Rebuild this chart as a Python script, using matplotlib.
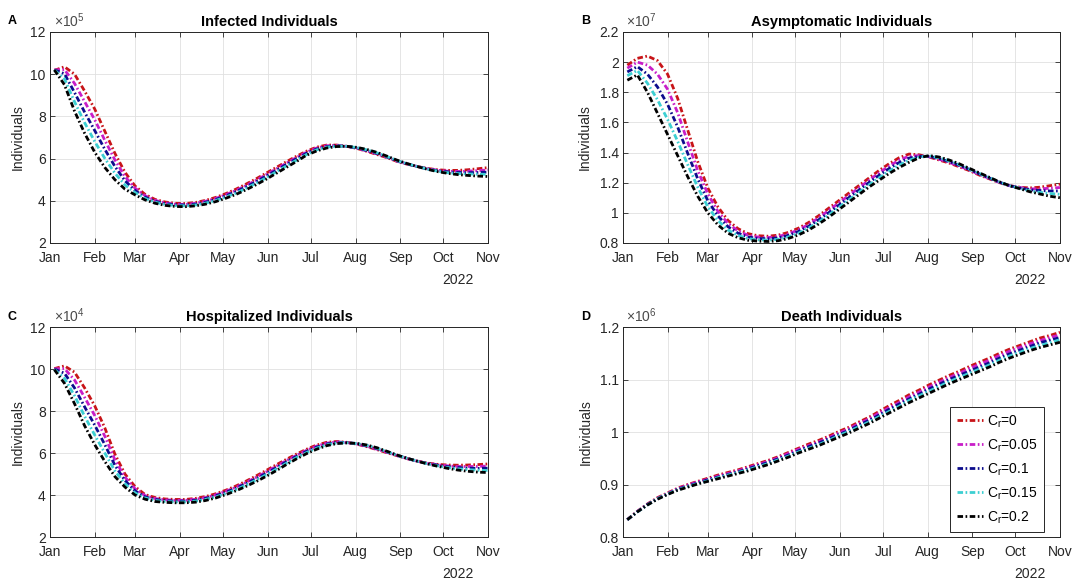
import numpy as np
import pandas as pd
import matplotlib
matplotlib.use("Agg")
import matplotlib.pyplot as plt
import matplotlib.dates as mdates
from matplotlib.ticker import FuncFormatter

plt.rcParams['font.family'] = ['Liberation Sans', 'DejaVu Sans']
plt.rcParams['mathtext.fontset'] = 'custom'
plt.rcParams['mathtext.rm'] = 'Liberation Sans'

# weekly model output, 4 Jan -> 1 Nov 2022
dates = pd.date_range("2022-01-04", periods=44, freq="7D")

cr_labels = [r"C$_\mathregular{r}$=0", r"C$_\mathregular{r}$=0.05", r"C$_\mathregular{r}$=0.1",
             r"C$_\mathregular{r}$=0.15", r"C$_\mathregular{r}$=0.2"]
cr_colors = ['#c81418', '#c81ec8', '#0c0c8c', '#3ccfd2', '#000000']

# infected (x1e5)
infected_cr0 = [10.18, 10.35, 10.00, 9.20, 8.35, 7.30, 6.25, 5.35, 4.70, 4.30, 4.06, 3.94, 3.88, 3.87, 3.92, 4.02, 4.16, 4.34, 4.55, 4.79, 5.04, 5.31, 5.58, 5.85, 6.11, 6.35, 6.54, 6.64, 6.64, 6.58, 6.48, 6.34, 6.19, 6.04, 5.86, 5.73, 5.62, 5.53, 5.47, 5.44, 5.44, 5.47, 5.52, 5.57]
infected_cr005 = [10.20, 10.22, 9.56, 8.70, 7.84, 6.87, 5.94, 5.15, 4.60, 4.24, 4.02, 3.90, 3.84, 3.83, 3.88, 3.98, 4.11, 4.29, 4.49, 4.72, 4.97, 5.24, 5.51, 5.78, 6.05, 6.30, 6.50, 6.61, 6.62, 6.58, 6.49, 6.36, 6.22, 6.06, 5.87, 5.74, 5.62, 5.52, 5.45, 5.40, 5.39, 5.40, 5.43, 5.46]
infected_cr01 = [10.20, 10.02, 9.13, 8.20, 7.33, 6.44, 5.63, 4.95, 4.49, 4.17, 3.97, 3.86, 3.81, 3.80, 3.84, 3.93, 4.06, 4.23, 4.43, 4.66, 4.90, 5.17, 5.44, 5.72, 5.99, 6.25, 6.45, 6.57, 6.61, 6.58, 6.50, 6.38, 6.24, 6.07, 5.89, 5.74, 5.62, 5.51, 5.42, 5.37, 5.34, 5.33, 5.34, 5.36]
infected_cr015 = [10.20, 9.78, 8.69, 7.70, 6.81, 6.01, 5.31, 4.75, 4.39, 4.11, 3.93, 3.82, 3.77, 3.76, 3.80, 3.89, 4.01, 4.18, 4.36, 4.59, 4.83, 5.09, 5.37, 5.65, 5.92, 6.19, 6.41, 6.54, 6.59, 6.58, 6.52, 6.41, 6.27, 6.09, 5.90, 5.75, 5.62, 5.50, 5.40, 5.33, 5.29, 5.27, 5.26, 5.25]
infected_cr02 = [10.20, 9.50, 8.25, 7.20, 6.30, 5.58, 5.00, 4.55, 4.28, 4.04, 3.88, 3.78, 3.73, 3.72, 3.76, 3.84, 3.96, 4.12, 4.30, 4.52, 4.76, 5.02, 5.30, 5.58, 5.86, 6.16, 6.36, 6.50, 6.57, 6.58, 6.53, 6.43, 6.29, 6.11, 5.92, 5.76, 5.62, 5.49, 5.38, 5.30, 5.24, 5.20, 5.17, 5.15]

# asymptomatic (x1e7)
asym_cr0 = [1.98, 2.025, 2.04, 2.01, 1.92, 1.76, 1.55, 1.34, 1.165, 1.04, 0.95, 0.895, 0.862, 0.848, 0.845, 0.852, 0.87, 0.898, 0.935, 0.98, 1.03, 1.08, 1.13, 1.18, 1.23, 1.28, 1.325, 1.365, 1.39, 1.385, 1.37, 1.35, 1.33, 1.305, 1.28, 1.25, 1.225, 1.20, 1.18, 1.17, 1.165, 1.17, 1.18, 1.19]
asym_cr005 = [1.96, 2.0, 1.98, 1.92, 1.82, 1.665, 1.47, 1.28, 1.125, 1.01, 0.93, 0.88, 0.851, 0.839, 0.836, 0.843, 0.86, 0.887, 0.922, 0.966, 1.015, 1.065, 1.115, 1.165, 1.215, 1.264, 1.309, 1.349, 1.376, 1.38, 1.372, 1.355, 1.335, 1.31, 1.284, 1.254, 1.228, 1.201, 1.18, 1.168, 1.159, 1.159, 1.163, 1.168]
asym_cr01 = [1.935, 1.97, 1.92, 1.835, 1.72, 1.57, 1.395, 1.225, 1.08, 0.98, 0.908, 0.865, 0.84, 0.83, 0.828, 0.834, 0.85, 0.876, 0.91, 0.953, 1.0, 1.05, 1.10, 1.15, 1.20, 1.248, 1.293, 1.333, 1.363, 1.375, 1.375, 1.36, 1.34, 1.315, 1.288, 1.258, 1.23, 1.203, 1.18, 1.165, 1.153, 1.148, 1.145, 1.145]
asym_cr015 = [1.91, 1.945, 1.86, 1.75, 1.62, 1.475, 1.32, 1.17, 1.04, 0.95, 0.886, 0.85, 0.829, 0.821, 0.819, 0.824, 0.84, 0.864, 0.898, 0.939, 0.985, 1.035, 1.085, 1.135, 1.185, 1.231, 1.276, 1.316, 1.349, 1.37, 1.378, 1.365, 1.345, 1.32, 1.291, 1.261, 1.233, 1.204, 1.18, 1.163, 1.146, 1.136, 1.128, 1.123]
asym_cr02 = [1.88, 1.915, 1.80, 1.66, 1.52, 1.38, 1.24, 1.11, 1.00, 0.92, 0.865, 0.835, 0.818, 0.812, 0.810, 0.815, 0.83, 0.853, 0.885, 0.925, 0.97, 1.02, 1.07, 1.12, 1.17, 1.215, 1.26, 1.30, 1.335, 1.365, 1.38, 1.37, 1.35, 1.325, 1.295, 1.265, 1.235, 1.205, 1.18, 1.16, 1.14, 1.125, 1.11, 1.10]

# hospitalized (x1e4)
hosp_cr0 = [10.02, 10.15, 9.85, 9.10, 8.25, 7.20, 5.95, 5.00, 4.40, 4.02, 3.88, 3.81, 3.79, 3.79, 3.84, 3.93, 4.06, 4.23, 4.43, 4.66, 4.91, 5.17, 5.44, 5.70, 5.95, 6.18, 6.38, 6.51, 6.55, 6.51, 6.42, 6.30, 6.16, 6.01, 5.87, 5.73, 5.61, 5.52, 5.46, 5.43, 5.42, 5.43, 5.45, 5.48]
hosp_cr005 = [10.01, 10.02, 9.48, 8.65, 7.79, 6.80, 5.68, 4.85, 4.30, 3.97, 3.83, 3.77, 3.75, 3.75, 3.80, 3.88, 4.01, 4.18, 4.37, 4.60, 4.84, 5.10, 5.37, 5.64, 5.89, 6.13, 6.33, 6.47, 6.53, 6.50, 6.43, 6.32, 6.18, 6.03, 5.88, 5.73, 5.61, 5.51, 5.44, 5.39, 5.36, 5.36, 5.36, 5.38]
hosp_cr01 = [10.00, 9.80, 9.10, 8.20, 7.33, 6.40, 5.42, 4.69, 4.20, 3.91, 3.79, 3.73, 3.71, 3.71, 3.75, 3.84, 3.96, 4.13, 4.32, 4.54, 4.78, 5.03, 5.30, 5.58, 5.84, 6.08, 6.28, 6.43, 6.50, 6.50, 6.44, 6.34, 6.21, 6.05, 5.89, 5.74, 5.61, 5.50, 5.42, 5.35, 5.31, 5.28, 5.27, 5.28]
hosp_cr015 = [9.98, 9.56, 8.73, 7.75, 6.86, 6.00, 5.15, 4.54, 4.10, 3.86, 3.74, 3.69, 3.67, 3.67, 3.71, 3.79, 3.91, 4.07, 4.26, 4.47, 4.71, 4.96, 5.23, 5.51, 5.78, 6.02, 6.23, 6.39, 6.48, 6.49, 6.45, 6.36, 6.23, 6.06, 5.89, 5.74, 5.61, 5.49, 5.39, 5.31, 5.25, 5.21, 5.18, 5.17]
hosp_cr02 = [9.97, 9.32, 8.35, 7.30, 6.40, 5.60, 4.88, 4.38, 4.00, 3.80, 3.69, 3.65, 3.63, 3.63, 3.66, 3.74, 3.86, 4.02, 4.20, 4.41, 4.64, 4.89, 5.16, 5.45, 5.72, 5.97, 6.18, 6.35, 6.45, 6.48, 6.46, 6.38, 6.25, 6.08, 5.90, 5.75, 5.61, 5.48, 5.37, 5.27, 5.19, 5.13, 5.09, 5.07]

# cumulative deaths (x1e6)
death_cr0 = [0.833, 0.849, 0.863, 0.875, 0.884, 0.893, 0.900, 0.906, 0.912, 0.918, 0.923, 0.928, 0.934, 0.940, 0.946, 0.953, 0.961, 0.969, 0.977, 0.984, 0.992, 1.001, 1.009, 1.019, 1.028, 1.039, 1.050, 1.060, 1.071, 1.080, 1.090, 1.099, 1.108, 1.116, 1.125, 1.133, 1.141, 1.150, 1.158, 1.165, 1.172, 1.179, 1.184, 1.190]
death_cr005 = [0.833, 0.849, 0.862, 0.874, 0.883, 0.892, 0.899, 0.905, 0.910, 0.916, 0.921, 0.926, 0.932, 0.938, 0.944, 0.951, 0.959, 0.967, 0.974, 0.981, 0.989, 0.998, 1.006, 1.016, 1.025, 1.036, 1.046, 1.056, 1.067, 1.076, 1.086, 1.095, 1.104, 1.112, 1.121, 1.129, 1.137, 1.146, 1.154, 1.161, 1.168, 1.174, 1.180, 1.185]
death_cr01 = [0.833, 0.848, 0.862, 0.873, 0.882, 0.891, 0.897, 0.903, 0.909, 0.914, 0.919, 0.924, 0.930, 0.936, 0.942, 0.949, 0.956, 0.964, 0.972, 0.979, 0.987, 0.995, 1.003, 1.013, 1.022, 1.032, 1.043, 1.053, 1.063, 1.072, 1.082, 1.091, 1.100, 1.108, 1.116, 1.124, 1.132, 1.141, 1.149, 1.156, 1.163, 1.170, 1.175, 1.180]
death_cr015 = [0.833, 0.848, 0.861, 0.873, 0.882, 0.890, 0.896, 0.902, 0.907, 0.913, 0.918, 0.923, 0.928, 0.934, 0.940, 0.947, 0.954, 0.962, 0.969, 0.976, 0.984, 0.993, 1.001, 1.010, 1.019, 1.029, 1.039, 1.049, 1.060, 1.069, 1.078, 1.087, 1.096, 1.104, 1.112, 1.120, 1.128, 1.137, 1.145, 1.152, 1.159, 1.165, 1.170, 1.176]
death_cr02 = [0.833, 0.848, 0.861, 0.872, 0.881, 0.889, 0.895, 0.901, 0.906, 0.911, 0.916, 0.921, 0.926, 0.932, 0.938, 0.945, 0.952, 0.960, 0.967, 0.974, 0.982, 0.990, 0.998, 1.007, 1.016, 1.026, 1.036, 1.046, 1.056, 1.065, 1.074, 1.083, 1.092, 1.100, 1.108, 1.116, 1.124, 1.133, 1.141, 1.148, 1.155, 1.161, 1.166, 1.171]


# letter, title, exponent, series, y-limits, y-ticks, axes box, ylabel x
panels = [
    ("A", "Infected Individuals", 5,
     [infected_cr0, infected_cr005, infected_cr01, infected_cr015, infected_cr02],
     (2, 12), np.arange(2, 13, 2), [0.0465, 0.5818, 0.4071, 0.3632], -0.057),
    ("B", "Asymptomatic Individuals", 7,
     [asym_cr0, asym_cr005, asym_cr01, asym_cr015, asym_cr02],
     (0.8, 2.2), np.linspace(0.8, 2.2, 8), [0.579, 0.5818, 0.4061, 0.3632], -0.071),
    ("C", "Hospitalized Individuals", 4,
     [hosp_cr0, hosp_cr005, hosp_cr01, hosp_cr015, hosp_cr02],
     (2, 12), np.arange(2, 13, 2), [0.0465, 0.0757, 0.4071, 0.3614], -0.057),
    ("D", "Death Individuals", 6,
     [death_cr0, death_cr005, death_cr01, death_cr015, death_cr02],
     (0.8, 1.2), np.linspace(0.8, 1.2, 5), [0.579, 0.0757, 0.4061, 0.3614], -0.069),
]

dashdot = (0, (2.0, 0.9, 0.6, 0.9))
axis_col = '#262626'

fig = plt.figure(figsize=(10.76, 5.81), dpi=100)

for letter, title, expo, series, ylim, yticks, box, ylab_x in panels:
    ax = fig.add_axes(box)
    for vals, col, lab in zip(series, cr_colors, cr_labels):
        ax.plot(dates, vals, color=col, linestyle=dashdot, linewidth=2.0, label=lab)

    ax.set_xlim(pd.Timestamp("2022-01-01"), pd.Timestamp("2022-11-01"))
    ax.set_ylim(*ylim)
    ax.set_yticks(yticks)
    ax.yaxis.set_major_formatter(FuncFormatter(lambda v, p: f"{v:g}"))
    ax.xaxis.set_major_locator(mdates.MonthLocator())
    ax.xaxis.set_major_formatter(mdates.DateFormatter("%b"))

    ax.grid(True, color='#e0e0e0', linewidth=0.6)
    ax.set_axisbelow(True)
    for sp in ax.spines.values():
        sp.set_color(axis_col)
        sp.set_linewidth(0.7)
    ax.tick_params(axis='both', direction='in', top=True, right=True, length=3.5,
                   width=0.6, colors=axis_col, labelsize=10)
    ax.tick_params(axis='x', pad=6)
    ax.tick_params(axis='y', pad=3)

    ax.set_title(title, fontsize=10.5, fontweight='bold', pad=4)
    ax.set_ylabel("Individuals", fontsize=10, color=axis_col)
    ax.yaxis.set_label_coords(ylab_x, 0.5)

    # MATLAB-style exponent and year labels
    ax.text(0.008, 1.008, "×10$^{%d}$" % expo, transform=ax.transAxes,
            ha='left', va='bottom', fontsize=10, color='#4a4a4a')
    ax.text(0.932, -0.175, "2022", transform=ax.transAxes,
            ha='center', va='center', fontsize=10, color=axis_col)

    fig.text(box[0] - 0.035, box[1] + box[3] + 0.018, letter,
             fontsize=9, fontweight='bold', ha='center', va='center')

    if letter == "D":
        leg = ax.legend(loc='lower right', bbox_to_anchor=(0.963, 0.024),
                        borderaxespad=0, fontsize=10, handlelength=1.9,
                        handletextpad=0.3, labelspacing=0.55, borderpad=0.45,
                        fancybox=False, framealpha=1)
        leg.get_frame().set_edgecolor(axis_col)
        leg.get_frame().set_linewidth(0.7)

fig.savefig("out.png", dpi=100)
